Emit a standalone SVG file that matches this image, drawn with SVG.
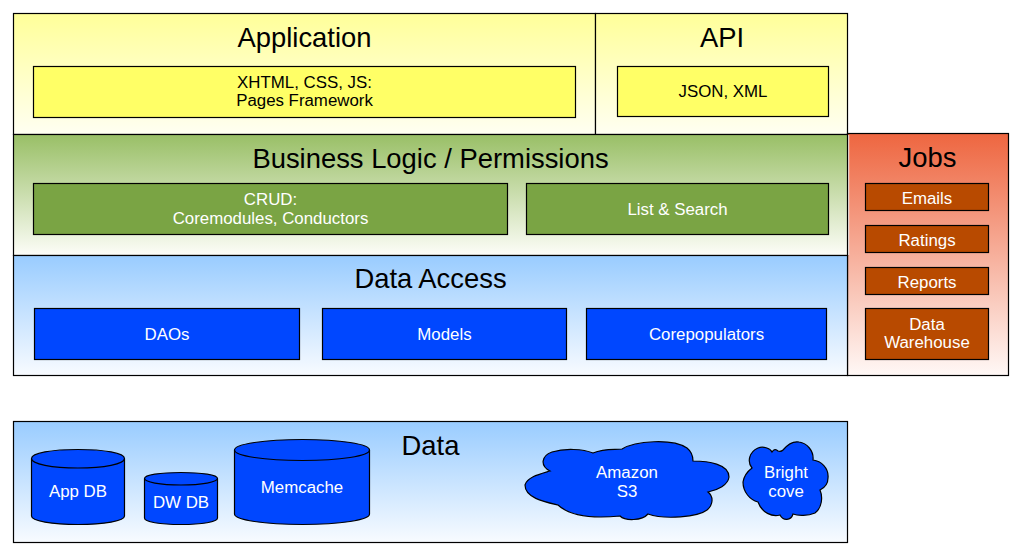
<svg xmlns="http://www.w3.org/2000/svg" width="1023" height="558" viewBox="0 0 1023 558">
<style>
text{font-family:"Liberation Sans",Arial,sans-serif;text-anchor:middle}
.h{font-size:27.4px;fill:#000}
.b{stroke:#000;stroke-width:1.2}
.y{fill:#ffff66}.g{fill:#7aa444}.bl{fill:#0047ff}.o{fill:#b84a00}
.s{font-size:16.85px;fill:#000}.w{font-size:16.85px;fill:#fff}
</style>
<defs>
<linearGradient id="gy" x1="0" y1="0" x2="0" y2="1"><stop offset="0" stop-color="#ffff99"/><stop offset="1" stop-color="#fffff2"/></linearGradient>
<linearGradient id="gg" x1="0" y1="0" x2="0" y2="1"><stop offset="0" stop-color="#99bf66"/><stop offset="1" stop-color="#fdfdf8"/></linearGradient>
<linearGradient id="gb" x1="0" y1="0" x2="0" y2="1"><stop offset="0" stop-color="#99ccff"/><stop offset="1" stop-color="#f8fbff"/></linearGradient>
<linearGradient id="go" x1="0" y1="0" x2="0" y2="1"><stop offset="0" stop-color="#ee6640"/><stop offset="1" stop-color="#fff8f6"/></linearGradient>
</defs>
<g id="application"><rect class="b" x="13.5" y="13.5" width="582" height="121" fill="url(#gy)"/><text class="h" x="304.500" y="47">Application</text><rect class="b y" x="33.500" y="66.500" width="542" height="51"/><text class="s" x="304.500" y="88">XHTML, CSS, JS:</text><text class="s" x="304.500" y="106">Pages Framework</text></g>
<g id="api"><rect class="b" x="595.500" y="13.500" width="252" height="121" fill="url(#gy)"/><text class="h" x="722" y="47">API</text><rect class="b y" x="617.500" y="66.500" width="211" height="50"/><text class="s" x="723" y="97">JSON, XML</text></g>
<g id="jobs"><rect class="b" x="847.500" y="133.500" width="161" height="242" fill="url(#go)"/><rect x="848.200" y="135" width="1" height="120" fill="#fff"/><text class="h" x="927.500" y="167">Jobs</text><rect class="b o" x="865.500" y="183.500" width="123" height="27"/><text class="w" x="927" y="204">Emails</text><rect class="b o" x="865.500" y="225.500" width="123" height="27"/><text class="w" x="927" y="246">Ratings</text><rect class="b o" x="865.500" y="267.500" width="123" height="27"/><text class="w" x="927" y="288">Reports</text><rect class="b o" x="865.500" y="308.500" width="123" height="51"/><text class="w" x="927" y="330">Data</text><text class="w" x="927" y="348">Warehouse</text></g>
<g id="business"><rect class="b" x="13.500" y="134.500" width="834" height="121" fill="url(#gg)"/><text class="h" x="430.500" y="168">Business Logic / Permissions</text><rect class="b g" x="33.500" y="183.500" width="474" height="51"/><text class="w" x="270.500" y="205">CRUD:</text><text class="w" x="270.500" y="224">Coremodules, Conductors</text><rect class="b g" x="526.500" y="183.500" width="302" height="51"/><text class="w" x="677.500" y="215">List &amp; Search</text></g>
<g id="dataaccess"><rect class="b" x="13.500" y="255.500" width="834" height="120" fill="url(#gb)"/><text class="h" x="430.500" y="288">Data Access</text><rect class="b bl" x="34.500" y="308.500" width="265" height="51"/><text class="w" x="167" y="340">DAOs</text><rect class="b bl" x="322.500" y="308.500" width="244" height="51"/><text class="w" x="444.500" y="340">Models</text><rect class="b bl" x="586.500" y="308.500" width="240" height="51"/><text class="w" x="706.500" y="340">Corepopulators</text></g>
<g id="data"><rect class="b" x="13.500" y="421.500" width="834" height="121" fill="url(#gb)"/><text class="h" x="430.500" y="455">Data</text></g>
<g id="appdb"><path class="b bl" d="M31.500 458.500C31.500 453 52 449.500 78 449.500S124.500 453 124.500 458.500V516C124.500 521 104 524.500 78 524.500S31.500 521 31.500 516Z"/><path class="b" fill="none" d="M31.500 458.500C31.500 464 52 468 78 468S124.500 464 124.500 458.500"/><text class="w" x="78" y="497">App DB</text></g>
<g id="dwdb"><path class="b bl" d="M144.500 478.500C144.500 475 160 472.500 181 472.500S217.500 475 217.500 478.500V518C217.500 522 202 524.500 181 524.500S144.500 522 144.500 518Z"/><path class="b" fill="none" d="M144.500 478.500C144.500 482 160 485 181 485S217.500 482 217.500 478.500"/><text class="w" x="181" y="508">DW DB</text></g>
<g id="memcache"><path class="b bl" d="M234.500 450C234.500 444 265 439.500 302.500 439.500S369.500 444 369.500 450V514C369.500 520 340 524.500 302.500 524.500S234.500 520 234.500 514Z"/><path class="b" fill="none" d="M234.500 450C234.500 456 265 460.500 302.500 460.500S369.500 456 369.500 450"/><text class="w" x="302" y="493">Memcache</text></g>
<g id="amazons3"><path class="b bl" d="M550 471C540 466 541 456 552 452C565 448 583 449 593 453C605 448 615 450 622 449C635 441 672 438 687 448C692 452 693 457 693 461C708 461 729 464 729 477C728 485 718 490 708 492C714 497 713 505 707 510C698 517 665 520 648 514C642 521 625 521 620 516C600 518 572 518 558 505C545 502 525 498 525 485C527 477 540 474 550 471Z"/><text class="w" x="627" y="478">Amazon</text><text class="w" x="627" y="497">S3</text></g>
<g id="brightcove"><path class="b bl" d="M752 468C747 462 749 452 758 448C763 446 770 448 772 452C774 449 776 449 778 451C781 452 783 450 783 450C788 444 793 441 799 442C807 443 814 451 813 460C821 461 829 468 828 478C828 484 824 488 820 490C823 497 822 508 815 513C808 516 798 516 793 514C791 521 783 521 780 515C772 517 762 513 758 502C750 500 743 492 743 482C744 476 748 471 752 468Z"/><text class="w" x="786" y="478">Bright</text><text class="w" x="786" y="497">cove</text></g>
</svg>
